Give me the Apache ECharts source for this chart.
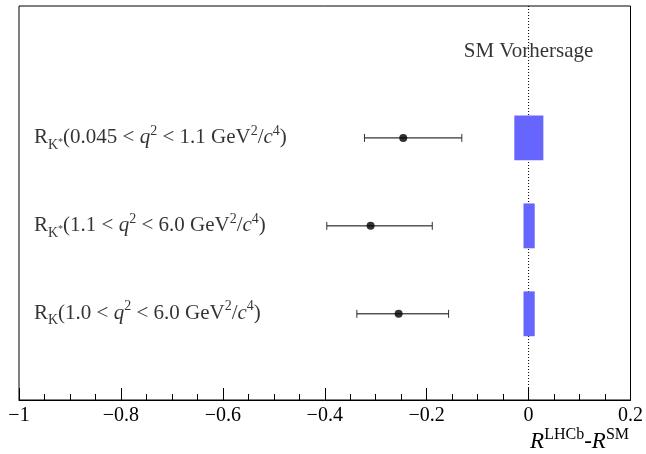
<!DOCTYPE html>
<html>
<head>
<meta charset="utf-8">
<script src="https://cdn.jsdelivr.net/npm/echarts@6/dist/echarts.min.js"></script>
<style>
  html, body { margin: 0; padding: 0; background: #fff; }
  #chart { width: 646px; height: 454px; }
</style>
</head>
<body>
<div id="chart"></div>
<script>
// rows from top to bottom
const rowPos = [3, 2, 1]
const ratioName = ['K*', 'K*', 'K']
const qLow = ['0.045', '1.1', '1.0']
const qHigh = ['1.1', '6.0', '6.0']

// LHCb minus SM: central value and error bar ends
const central = [-0.246, -0.310, -0.255]
const errLow = [-0.322, -0.396, -0.337]
const errHigh = [-0.131, -0.189, -0.157]

// SM prediction band (relative to SM)
const smLow = [-0.028, -0.010, -0.010]
const smHigh = [0.029, 0.012, 0.012]

const serif = "'Liberation Serif', 'DejaVu Serif', serif"

function rowLabel(i) {
  let s = '{n|R}{sub|K}'
  if (ratioName[i] === 'K*') s += '{star|*}'
  s += '{n|(' + qLow[i] + ' < }{i|q}{sup|2}{n| < ' + qHigh[i] + ' GeV}{sup|2}{n|/}{i|c}{sup|4}{n|)}'
  return s
}

const rich = {
  n: { fontFamily: serif, fontSize: 21, color: '#000', lineHeight: 28, verticalAlign: 'middle' },
  i: { fontFamily: serif, fontSize: 21, fontStyle: 'italic', color: '#000', lineHeight: 28, verticalAlign: 'middle' },
  sup: { fontFamily: serif, fontSize: 14, color: '#000', lineHeight: 20, verticalAlign: 'top' },
  sub: { fontFamily: serif, fontSize: 14, color: '#000', lineHeight: 13, verticalAlign: 'bottom' },
  star: { fontFamily: serif, fontSize: 10, color: '#000', lineHeight: 12, verticalAlign: 'bottom', padding: [0, 0, 5, 0] }
}

const chart = echarts.init(document.getElementById('chart'))

const option = {
  animation: false,
  grid: { left: 19, right: 15, top: 6, bottom: 54, show: true, borderColor: '#000', borderWidth: 1 },
  title: {
    text: '{i|R}{sup|LHCb}{n|-}{i|R}{sup|SM}',
    right: 12,
    top: 422,
    textStyle: {
      rich: {
        n: { fontFamily: serif, fontSize: 23, fontWeight: 'normal', color: '#000', lineHeight: 30, verticalAlign: 'middle' },
        i: { fontFamily: serif, fontSize: 23, fontWeight: 'normal', fontStyle: 'italic', color: '#000', lineHeight: 30, verticalAlign: 'middle' },
        sup: { fontFamily: serif, fontSize: 16, fontWeight: 'normal', color: '#000', lineHeight: 22, verticalAlign: 'top' }
      }
    }
  },
  xAxis: {
    type: 'value',
    min: -1,
    max: 0.2,
    interval: 0.2,
    axisLine: { show: true, lineStyle: { color: '#000', width: 1 } },
    axisTick: { show: true, inside: true, length: 12, lineStyle: { color: '#000' } },
    minorTick: { show: true, splitNumber: 4, length: 6, lineStyle: { color: '#000' } },
    splitLine: { show: false },
    axisLabel: {
      fontFamily: serif,
      fontSize: 20,
      color: '#000',
      margin: 6,
      formatter: v => {
        const r = Number(v.toFixed(1))
        return r === 0 ? '0' : String(r).replace('-', '\u2212')
      }
    }
  },
  yAxis: {
    type: 'value',
    min: 0.02,
    max: 4.5,
    axisLine: { show: false, onZero: false },
    axisTick: { show: false },
    axisLabel: { show: false },
    splitLine: { show: false }
  },
  series: [
    {
      // dotted line at zero
      type: 'line',
      data: [[0, 0.02], [0, 4.5]],
      symbol: 'none',
      lineStyle: { color: '#000', width: 1, type: [1, 2] },
      z: 1,
      silent: true
    },
    {
      // SM prediction boxes
      type: 'custom',
      z: 2,
      data: rowPos.map((y, i) => [smLow[i], smHigh[i], y]),
      renderItem: (params, api) => {
        const p0 = api.coord([api.value(0), api.value(2) + 0.255])
        const p1 = api.coord([api.value(1), api.value(2) - 0.255])
        return {
          type: 'rect',
          shape: { x: p0[0], y: p0[1], width: p1[0] - p0[0], height: p1[1] - p0[1] },
          style: { fill: '#6666ff' }
        }
      }
    },
    {
      // error bars
      type: 'custom',
      z: 3,
      data: rowPos.map((y, i) => [errLow[i], errHigh[i], y]),
      renderItem: (params, api) => {
        const a = api.coord([api.value(0), api.value(2)])
        const b = api.coord([api.value(1), api.value(2)])
        const h = 4
        const st = { stroke: '#000', lineWidth: 1 }
        const cap = { stroke: '#333', lineWidth: 1 }
        return {
          type: 'group',
          children: [
            { type: 'line', shape: { x1: a[0], y1: a[1], x2: b[0], y2: b[1] }, style: st },
            { type: 'line', shape: { x1: a[0], y1: a[1] - h, x2: a[0], y2: a[1] + h }, style: cap },
            { type: 'line', shape: { x1: b[0], y1: b[1] - h, x2: b[0], y2: b[1] + h }, style: cap }
          ]
        }
      }
    },
    {
      // central values
      type: 'scatter',
      z: 4,
      symbol: 'circle',
      symbolSize: 8,
      itemStyle: { color: '#000' },
      data: rowPos.map((y, i) => [central[i], y])
    },
    {
      // row labels
      type: 'scatter',
      z: 5,
      symbolSize: 0,
      silent: true,
      data: rowPos.map((y, i) => ({ value: [-1, y], label: { formatter: rowLabel(i) } })),
      label: { show: true, position: 'right', distance: 15, rich: rich }
    },
    {
      // SM label
      type: 'scatter',
      z: 5,
      symbolSize: 0,
      silent: true,
      data: [[0, 3.98]],
      label: {
        show: true,
        position: 'inside',
        formatter: 'SM Vorhersage',
        fontFamily: serif,
        fontSize: 21,
        color: '#000'
      }
    }
  ]
}

chart.setOption(option)
</script>
</body>
</html>
